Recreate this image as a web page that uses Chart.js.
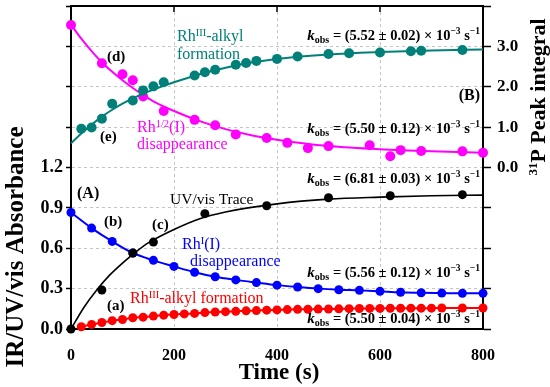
<!DOCTYPE html>
<html><head><meta charset="utf-8">
<script src="https://cdn.jsdelivr.net/npm/chart.js@4.4.0/dist/chart.umd.min.js"></script>
<style>html,body{margin:0;padding:0;background:#fff}#wrap{width:550px;height:387px;position:relative}</style>
</head><body><div id="wrap"><canvas id="c"></canvas></div>
<script>
// ---- data ----
const uvTime = [0, 60, 120, 160, 260, 380, 500, 620, 760];
const uvAbs  = [0, 0.29, 0.565, 0.646, 0.857, 0.916, 0.975, 0.99, 0.998];
const uvFitTime = [0, 25, 50, 75, 100, 125, 150, 200, 250, 300, 400, 500, 600, 700, 800];
const uvFitAbs  = [0, 0.16, 0.29, 0.40, 0.49, 0.57, 0.64, 0.74, 0.82, 0.87, 0.93, 0.965, 0.98, 0.99, 0.995];

const rhITime = [0, 40, 80, 120, 160, 200, 240, 280, 320, 360, 400, 440, 480, 520, 560, 600, 640, 680, 720, 760, 800];
const rhIAbs  = [0.866, 0.75, 0.651, 0.565, 0.51, 0.465, 0.422, 0.388, 0.365, 0.345, 0.326, 0.312, 0.300, 0.292, 0.287, 0.280, 0.273, 0.269, 0.267, 0.265, 0.265];

const alkylIRTime = [20, 40, 60, 80, 100, 120, 140, 160, 180, 200, 220, 240, 260, 280, 300, 320, 340, 360, 380, 400, 420, 440, 460, 480, 500, 520, 540, 560, 580, 600, 620, 640, 660, 680, 700, 720, 760, 800];
const alkylIRAbs  = [0.017, 0.034, 0.048, 0.062, 0.071, 0.084, 0.088, 0.096, 0.103, 0.108, 0.112, 0.116, 0.122, 0.126, 0.129, 0.131, 0.135, 0.137, 0.140, 0.142, 0.144, 0.146, 0.147, 0.148, 0.149, 0.150, 0.151, 0.152, 0.153, 0.153, 0.154, 0.154, 0.155, 0.155, 0.155, 0.156, 0.156, 0.156];

const alkylPTime = [20, 40, 60, 80, 120, 140, 160, 180, 240, 260, 280, 320, 340, 360, 400, 440, 500, 540, 600, 660, 680, 760];
const alkylPInt  = [0.96, 0.99, 1.21, 1.58, 1.66, 1.91, 2.01, 2.11, 2.28, 2.36, 2.42, 2.545, 2.59, 2.64, 2.69, 2.75, 2.81, 2.83, 2.85, 2.88, 2.89, 2.91];
const alkylPFitTime = [0, 20, 40, 60, 80, 100, 120, 140, 160, 200, 250, 300, 350, 400, 500, 600, 700, 800];
const alkylPFitInt  = [0.60, 0.84, 1.06, 1.26, 1.43, 1.58, 1.71, 1.83, 1.93, 2.11, 2.31, 2.47, 2.60, 2.69, 2.80, 2.86, 2.90, 2.92];

const rhHalfTime = [0, 60, 100, 120, 140, 180, 240, 280, 320, 380, 420, 460, 500, 580, 620, 640, 680, 760, 800];
const rhHalfInt  = [3.53, 2.58, 2.31, 2.16, 1.76, 1.40, 1.18, 1.045, 0.82, 0.73, 0.61, 0.48, 0.53, 0.55, 0.28, 0.43, 0.41, 0.40, 0.365];
const rhHalfFitTime = [0, 20, 40, 60, 80, 100, 120, 140, 160, 200, 250, 300, 350, 400, 450, 500, 600, 700, 800];
const rhHalfFitInt  = [3.54, 3.19, 2.88, 2.60, 2.37, 2.16, 1.97, 1.80, 1.64, 1.40, 1.15, 0.95, 0.80, 0.69, 0.60, 0.53, 0.45, 0.40, 0.365];

const xTicks = [0, 200, 400, 600, 800];
const leftTickLabels = ['0.0', '0.3', '0.6', '0.9', '1.2'];
const rightTickLabels = ['0.0', '1.0', '2.0', '3.0'];
const kobsLabels = ['(5.52 ± 0.02)', '(5.50 ± 0.12)', '(6.81 ± 0.03)', '(5.56 ± 0.12)', '(5.50 ± 0.04)'];

// ---- styling ----
const SERIF = '"Liberation Serif", "DejaVu Serif", serif';
const TEAL = '#008078', MAG = '#ff00ff', BLUE = '#0000ff', RED = '#ff0000';
const toXY = (xs, ys) => xs.map((x, i) => ({x: x, y: ys[i]}));

function fontOf(p) { return (p.st || '') + ' ' + p.s + 'px ' + SERIF; }
function rich(ctx, parts, x, y, align, color) {
  let w = 0;
  parts.forEach(p => { ctx.font = fontOf(p); p.w = ctx.measureText(p.t).width; w += p.w; });
  let cx = align === 'right' ? x - w : (align === 'center' ? x - w / 2 : x);
  ctx.fillStyle = color || '#000';
  ctx.textAlign = 'left';
  ctx.textBaseline = 'alphabetic';
  parts.forEach(p => { ctx.font = fontOf(p); ctx.fillText(p.t, cx, y + (p.dy || 0)); cx += p.w; });
}
function kobs(ctx, val, x, y) {
  const parts = val.split('±');
  rich(ctx, [
    {t: 'k', s: 15, st: 'italic bold'},
    {t: 'obs', s: 10, st: 'bold', dy: 3},
    {t: ' = ' + parts[0], s: 14.5, st: 'bold'},
    {t: '±', s: 14.5, st: 'bold'},
    {t: parts[1] + ' \u00d7 10', s: 14.5, st: 'bold'},
    {t: '\u22123', s: 9.5, st: 'bold', dy: -6},
    {t: ' s', s: 14.5, st: 'bold'},
    {t: '\u22121', s: 9.5, st: 'bold', dy: -6}
  ], x, y, 'right', '#000');
}

const annot = {
  id: 'annot',
  afterDraw(chart) {
    const ctx = chart.ctx, a = chart.chartArea;
    ctx.save();
    ctx.strokeStyle = '#000'; ctx.lineWidth = 2;
    ctx.beginPath(); ctx.moveTo(a.left - 1, a.top); ctx.lineTo(a.right + 1, a.top); ctx.stroke();
    ctx.lineWidth = 1.5;
    [200, 400, 600].forEach(v => {
      const px = chart.scales.x.getPixelForValue(v);
      ctx.beginPath(); ctx.moveTo(px, a.top); ctx.lineTo(px, a.top + 6); ctx.stroke();
    });

    rich(ctx, [{t: 'Rh', s: 16}, {t: 'III', s: 10.5, dy: -5}, {t: '-alkyl', s: 16}], 177, 41, 'left', TEAL);
    rich(ctx, [{t: 'formation', s: 16}], 177, 59, 'left', TEAL);
    rich(ctx, [{t: '(d)', s: 15, st: 'bold'}], 107, 61, 'left');
    rich(ctx, [{t: '(e)', s: 15, st: 'bold'}], 100, 141, 'left');
    rich(ctx, [{t: 'Rh', s: 16}, {t: '1/2', s: 10.5, dy: -5}, {t: '(I)', s: 16}], 137, 132, 'left', MAG);
    rich(ctx, [{t: 'disappearance', s: 16}], 137, 149, 'left', MAG);
    rich(ctx, [{t: '(A)', s: 16, st: 'bold'}], 77, 198, 'left');
    rich(ctx, [{t: 'UV/vis Trace', s: 15.5}], 170, 204, 'left', '#000');
    rich(ctx, [{t: '(b)', s: 15, st: 'bold'}], 104, 226, 'left');
    rich(ctx, [{t: '(c)', s: 15, st: 'bold'}], 152, 229, 'left');
    rich(ctx, [{t: 'Rh', s: 16}, {t: 'I', s: 10.5, dy: -5}, {t: '(I)', s: 16}], 182, 249, 'left', BLUE);
    rich(ctx, [{t: 'disappearance', s: 16}], 190, 266, 'left', BLUE);
    rich(ctx, [{t: '(a)', s: 15, st: 'bold'}], 107, 310, 'left');
    rich(ctx, [{t: 'Rh', s: 16}, {t: 'III', s: 10.5, dy: -5}, {t: '-alkyl formation', s: 16}], 130, 303, 'left', RED);
    rich(ctx, [{t: '(B)', s: 16, st: 'bold'}], 480, 100, 'right');

    const ys = [40, 133, 183, 277, 323];
    kobsLabels.forEach((k, i) => kobs(ctx, k, 480, ys[i]));

    ctx.fillStyle = '#000';
    ctx.font = 'bold 23px ' + SERIF;
    ctx.textAlign = 'center'; ctx.textBaseline = 'middle';
    ctx.fillText('Time (s)', 279, 373);
    ctx.save();
    ctx.translate(17, 247); ctx.rotate(-Math.PI / 2);
    ctx.font = 'bold 25px ' + SERIF;
    ctx.fillText('IR/UV/vis Absorbance', 0, 0);
    ctx.restore();
    ctx.save();
    ctx.translate(545, 97); ctx.rotate(-Math.PI / 2);
    rich(ctx, [{t: '31', s: 13, st: 'bold', dy: -8}, {t: 'P Peak integral', s: 22, st: 'bold'}], 0, 0, 'center', '#000');
    ctx.restore();
    ctx.restore();
  }
};

const scatter = (label, xs, ys, color, axis, r) => ({
  label, data: toXY(xs, ys), yAxisID: axis, showLine: false,
  pointRadius: r, pointHoverRadius: r, backgroundColor: color, borderColor: color, pointBorderWidth: 0, clip: false
});
const line = (label, xs, ys, color, axis, w, r) => ({
  label, data: toXY(xs, ys), yAxisID: axis, showLine: true, borderColor: color, backgroundColor: color,
  borderWidth: w, pointRadius: r || 0, pointBorderWidth: 0, cubicInterpolationMode: 'monotone', fill: false, clip: false
});
const noPad = s => { s.paddingTop = 0; s.paddingBottom = 0; s.paddingLeft = 0; s.paddingRight = 0; };

new Chart(document.getElementById('c'), {
  type: 'scatter',
  data: {
    datasets: [
      line('UV/vis fit', uvFitTime, uvFitAbs, '#000', 'yL', 1.6),
      scatter('UV/vis Trace', uvTime, uvAbs, '#000', 'yL', 4.5),
      line('Rh(I) disappearance', rhITime, rhIAbs, BLUE, 'yL', 2, 4.5),
      line('RhIII-alkyl formation (IR)', alkylIRTime, alkylIRAbs, RED, 'yL', 2, 4.5),
      line('RhIII-alkyl fit', alkylPFitTime, alkylPFitInt, TEAL, 'yR', 2),
      scatter('RhIII-alkyl formation (31P)', alkylPTime, alkylPInt, TEAL, 'yR', 5),
      line('Rh1/2(I) fit', rhHalfFitTime, rhHalfFitInt, MAG, 'yR', 2),
      scatter('Rh1/2(I) disappearance', rhHalfTime, rhHalfInt, MAG, 'yR', 5)
    ]
  },
  options: {
    responsive: true, maintainAspectRatio: false, animation: false,
    layout: {padding: {top: 6, left: 0, right: 0, bottom: 0}},
    plugins: {legend: {display: false}, tooltip: {enabled: false}},
    scales: {
      x: {
        type: 'linear', min: 0, max: 800,
        afterBuildTicks: s => { s.ticks = xTicks.map(v => ({value: v})); },
        ticks: {padding: 17, color: '#000', font: {family: SERIF, size: 16, weight: 'bold'}, maxRotation: 0},
        grid: {color: '#c4c4c4', lineWidth: 1, drawTicks: false},
        border: {color: '#000', width: 2, dash: [3, 3]},
        afterFit: s => { s.height = 58; noPad(s); }
      },
      yL: {
        position: 'left', min: 0, max: 2.4,
        ticks: {stepSize: 0.3, padding: 3, color: '#000', font: {family: SERIF, size: 18, weight: 'bold'},
          callback: (v) => { const i = Math.round(v / 0.3); return (i < leftTickLabels.length && Math.abs(v - i * 0.3) < 1e-6) ? leftTickLabels[i] : ''; }},
        grid: {color: '#c4c4c4', lineWidth: 1, tickLength: 5, tickColor: '#000', tickWidth: 1.5},
        border: {color: '#000', width: 2, dash: [3, 3]},
        afterFit: s => { s.width = 71; noPad(s); }
      },
      yR: {
        position: 'right', min: -4, max: 4,
        ticks: {stepSize: 1, padding: 6, color: '#000', font: {family: SERIF, size: 17, weight: 'bold'},
          callback: (v) => (v >= 0 && v < rightTickLabels.length) ? rightTickLabels[Math.round(v)] : ''},
        grid: {drawOnChartArea: false, tickLength: 8, tickColor: '#000', tickWidth: 1.5},
        border: {color: '#000', width: 2},
        afterFit: s => { s.width = 67; noPad(s); }
      }
    }
  },
  plugins: [annot]
});
</script></body></html>
